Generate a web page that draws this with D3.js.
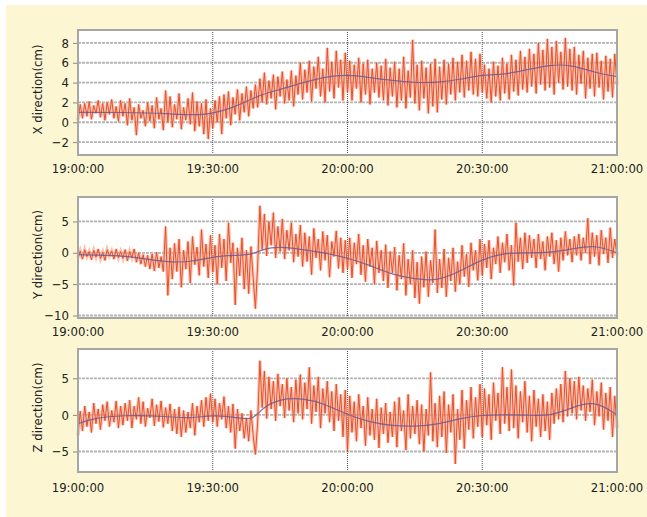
<!DOCTYPE html>
<html>
<head>
<meta charset="utf-8">
<script src="https://cdn.jsdelivr.net/npm/d3@7"></script>
<style>
  body { margin: 0; background: #fff; }
  svg { display: block; }
  text { font-family: "DejaVu Sans Condensed", "Liberation Sans Narrow", "DejaVu Sans", sans-serif; fill: #222; }
</style>
</head>
<body>
<svg id="chart" width="647" height="517"></svg>
<script>
// raw displacement samples, one every 30 s from 19:00:00 to 21:00:00 (cm)
const xRed = [
  0.2,1.8,0.4,1.9,0.6,2.1,0.3,1.7,0.9,2.2,0.5,1.9,0.2,2.0,0.8,2.3,0.4,1.6,0.1,2.2,
  0.6,1.9,-0.3,2.4,0.2,1.5,-1.3,1.8,0.4,1.2,-0.4,2.0,0.1,1.7,-0.6,2.5,0.3,1.4,-0.8,3.2,
  0.0,2.6,-0.5,1.8,0.3,2.9,-0.7,1.5,0.2,2.4,-0.2,3.0,-0.9,2.1,-0.4,1.9,-1.2,2.3,-1.7,1.4,
  -0.6,2.2,0.0,2.6,-1.2,2.8,0.4,3.1,-0.3,2.5,0.8,3.3,0.2,2.9,1.0,3.6,0.6,3.2,1.4,3.8,
  1.5,4.4,2.0,5.0,1.8,4.2,2.4,4.8,1.3,4.6,2.6,5.1,1.9,4.3,2.2,5.2,1.6,4.7,2.8,6.0,
  2.3,5.3,3.0,6.2,2.1,5.6,3.4,6.6,2.6,5.4,2.0,7.5,3.1,6.1,2.4,7.2,3.5,6.3,2.2,7.0,
  3.0,6.2,2.2,5.8,3.4,6.5,2.0,5.9,2.8,6.3,1.8,5.4,3.0,6.0,2.5,5.7,2.2,6.4,1.7,5.5,
  2.6,6.1,1.5,5.4,2.2,6.6,1.4,5.2,2.5,8.3,1.9,5.8,1.2,6.2,2.4,5.5,0.9,5.9,1.6,6.4,
  1.0,5.6,2.3,6.3,1.8,5.9,2.8,6.5,2.2,6.1,3.0,6.8,2.5,6.2,3.2,7.1,2.8,6.4,2.6,6.9,
  3.0,5.8,2.4,5.4,2.0,6.1,2.6,5.7,2.2,6.5,2.9,5.9,2.3,6.8,3.1,6.3,2.7,7.2,3.3,6.6,
  3.0,7.4,3.6,6.9,2.9,8.0,3.8,7.3,3.2,8.4,3.5,7.6,2.8,8.2,4.0,7.1,3.3,8.5,3.6,7.4,
  3.2,7.6,2.8,6.8,3.9,7.2,2.4,6.5,3.4,6.9,2.6,7.0,3.5,6.2,2.3,6.7,3.1,6.4,2.5,6.9,
  3.8
];
const yRed = [
  -0.8,0.3,-1.0,0.5,-0.6,0.2,-1.1,0.4,-0.7,0.6,-0.9,0.1,-1.2,0.5,-0.5,0.3,-1.0,0.6,-0.8,0.2,
  -0.9,0.5,-1.3,0.2,-0.8,0.6,-1.5,0.0,-1.8,-0.3,-2.2,-0.4,-2.6,-0.2,-2.9,0.1,-2.4,-0.6,-3.0,4.2,
  -6.8,0.8,-4.2,1.5,-3.0,2.2,-5.5,0.4,-2.6,1.8,-4.8,2.6,-1.9,0.9,-3.6,3.7,-2.2,1.4,-4.0,2.8,
  -3.1,1.2,-5.0,3.0,-2.4,2.2,-4.5,4.8,-1.6,1.6,-8.3,0.8,-3.7,2.4,-5.8,0.4,-6.5,1.0,-4.0,-8.9,
  -2.0,7.5,0.5,6.2,-0.5,5.0,1.2,6.4,-0.8,4.2,0.2,5.4,-1.0,3.6,0.4,4.8,-1.5,3.0,-0.6,4.4,
  -2.2,3.2,-1.4,2.6,-3.5,3.9,-0.8,2.2,-2.8,3.4,-1.2,2.8,-3.9,1.8,-0.6,3.5,-2.5,2.4,-3.2,2.0,
  -2.6,2.4,-4.0,1.6,-1.8,3.0,-3.5,1.2,-4.6,2.2,-2.2,0.8,-5.0,1.9,-3.2,0.4,-4.5,1.3,-5.6,0.2,
  -3.2,0.9,-6.0,-0.4,-4.2,1.5,-6.8,-1.0,-5.0,0.4,-7.2,-1.5,-8.1,-0.6,-5.5,0.2,-7.0,-1.2,-4.8,3.7,
  -6.4,-1.0,-5.6,0.6,-7.0,-0.8,-4.5,0.8,-6.2,-1.4,-5.0,1.2,-3.8,-0.2,-5.4,1.6,-2.8,0.4,-4.4,2.2,
  -3.6,1.4,-2.4,2.0,-4.2,0.8,-1.8,2.6,-3.2,1.6,-1.5,3.0,-2.8,1.2,-5.2,4.8,-1.4,2.4,-2.6,3.2,
  -1.6,2.8,-0.8,2.2,-2.4,3.0,-1.0,1.8,-2.8,2.6,-0.6,3.2,-1.8,2.0,-3.0,2.4,-1.2,3.4,-0.4,2.2,
  -1.5,2.6,-0.4,3.0,-1.2,2.4,0.0,5.5,-1.8,3.2,-0.6,2.8,-2.0,3.6,-0.2,2.4,-1.6,4.0,-0.8,2.2,
  -0.4
];
const zRed = [
  -2.8,0.5,-2.2,1.2,-1.6,0.4,-2.4,1.6,-1.2,0.8,-2.0,1.4,-0.8,1.8,-1.6,0.6,-1.0,1.9,-1.8,1.2,
  -1.4,1.6,-0.8,2.0,-1.8,1.2,-0.6,2.4,-1.2,1.8,-1.6,0.9,-0.4,2.2,-1.5,1.4,-0.9,1.9,-1.7,1.0,
  -1.2,1.5,-2.2,0.8,-2.6,1.1,-3.0,0.6,-2.4,0.4,-1.8,1.6,-2.8,1.2,-1.0,2.0,-1.6,2.4,-0.8,2.9,
  -1.0,2.2,-1.6,1.6,-0.6,2.5,-1.8,1.2,-2.4,1.5,-4.6,0.8,-2.2,0.2,-3.2,-0.4,-3.6,0.6,-2.8,-5.4,
  -1.0,7.4,1.0,6.0,-0.5,5.2,0.8,4.6,-0.8,5.6,1.2,4.2,-0.4,5.0,0.6,3.8,-1.0,4.8,0.2,5.5,
  -0.6,4.4,0.8,6.5,-1.2,4.0,0.4,5.2,-1.8,3.6,0.2,4.6,-1.0,3.2,-2.2,4.2,-0.8,2.8,-3.0,3.4,
  -5.0,2.6,-2.4,1.8,-3.6,2.8,-1.8,1.2,-4.2,2.4,-2.8,0.8,-3.4,2.2,-4.5,1.0,-2.6,1.6,-3.8,0.4,
  -3.0,1.8,-4.4,2.4,-2.2,0.6,-4.8,2.8,-3.2,1.2,-2.6,2.0,-4.0,1.4,-5.0,0.8,-2.8,5.8,-3.6,1.6,
  -4.4,2.6,-3.0,3.2,-5.2,1.4,-2.4,2.8,-6.7,0.8,-3.4,3.4,-4.6,2.0,-2.0,3.8,-3.2,2.4,-1.6,4.2,
  -3.0,3.6,-1.4,2.8,-3.4,4.4,-0.8,3.0,-2.6,6.5,-1.2,3.8,-2.2,6.2,-1.8,4.0,-3.2,3.2,-1.0,4.6,
  -2.4,2.6,-3.6,3.4,-1.6,2.2,-3.0,2.8,-2.2,1.8,-3.4,3.0,-1.2,3.6,-0.6,4.2,-1.0,6.0,-0.2,5.0,
  0.2,4.6,-0.6,5.2,0.6,4.0,-0.8,3.6,0.4,4.8,-1.4,3.2,-0.2,4.4,-2.0,3.0,-0.8,3.8,-3.0,2.6,
  -1.8
];

// smoothed trend (minutes after 19:00:00, cm)
const xBlueMin = [0,10,20,28,35,40,45,50,55,60,65,70,75,80,85,90,95,100,105,110,115,120];
const xBlue    = [1.0,1.0,0.9,0.6,1.5,2.7,3.3,4.0,4.6,4.8,4.5,4.2,4.0,4.0,4.3,4.8,4.8,5.3,5.8,5.8,5.0,4.6];
const yBlueMin = [0,10,15,20,25,30,35,39,41,45,50,55,60,65,70,75,80,85,90,95,100,105,110,115,120];
const yBlue    = [-0.3,-0.4,-1.0,-1.5,-1.5,-0.6,-0.4,-0.3,0.6,1.0,0.5,0.0,-0.8,-2.0,-3.5,-4.2,-4.5,-3.0,-1.0,0.0,0.0,0.0,0.6,1.3,0.0];
const zBlueMin = [0,3,10,20,25,30,35,39,41,45,50,55,60,65,70,75,80,85,90,95,100,105,110,115,120];
const zBlue    = [-1.2,-0.5,0.0,-0.2,-0.5,0.0,-0.3,-0.8,1.0,2.2,2.3,1.5,0.0,-1.0,-1.5,-1.6,-1.3,-0.5,0.0,0.0,0.0,-0.2,1.0,2.0,0.0];

const axisTitles = ["X direction(cm)", "Y direction(cm)", "Z direction(cm)"];
const xTicks = ["19:00:00", "19:30:00", "20:00:00", "20:30:00", "21:00:00"];
const xYTicks = [-2, 0, 2, 4, 6, 8];
const yYTicks = [-10, -5, 0, 5];
const zYTicks = [-5, 0, 5];

const svg = d3.select("#chart")
svg.append("rect").attr("x", 6).attr("y", 5).attr("width", 641).attr("height", 512).attr("fill", "#fcf6d2")

const parse = d3.timeParse("%H:%M:%S")
const t0 = parse(xTicks[0])
const xScale = d3.scaleTime().domain([t0, parse(xTicks[xTicks.length - 1])]).range([78, 617])
const atMin = m => new Date(t0.getTime() + m * 60000)

const panels = [
  {red: xRed, blueMin: xBlueMin, blue: xBlue, ticks: xYTicks, title: axisTitles[0], top: 30, bottom: 155, dom: [-3.3, 9.3], labelY: 173},
  {red: yRed, blueMin: yBlueMin, blue: yBlue, ticks: yYTicks, title: axisTitles[1], top: 197, bottom: 318, dom: [-10.4, 8.9], labelY: 336},
  {red: zRed, blueMin: zBlueMin, blue: zBlue, ticks: zYTicks, title: axisTitles[2], top: 349, bottom: 472, dom: [-7.8, 9.0], labelY: 492}
]

panels.forEach(p => {
  const y = d3.scaleLinear().domain(p.dom).range([p.bottom, p.top])
  const g = svg.append("g")
  const [x0, x1] = xScale.range()

  g.append("rect").attr("x", x0).attr("y", p.top).attr("width", x1 - x0).attr("height", p.bottom - p.top)
    .attr("fill", "#fff")

  // horizontal grid
  g.selectAll(".hgrid").data(p.ticks).join("line")
    .attr("x1", x0).attr("x2", x1)
    .attr("y1", d => y(d)).attr("y2", d => y(d))
    .attr("stroke", "#b4b4b4").attr("stroke-width", 1.8).attr("stroke-dasharray", "3,1")
  // vertical grid at inner half hours
  g.selectAll(".vgrid").data(xTicks.slice(1, -1)).join("line")
    .attr("x1", d => xScale(parse(d))).attr("x2", d => xScale(parse(d)))
    .attr("y1", p.top).attr("y2", p.bottom)
    .attr("stroke", "#555").attr("stroke-width", 1).attr("stroke-dasharray", "1,1")

  const redLine = d3.line().x((d, i) => xScale(atMin(i * 0.5))).y(d => y(d))
  g.append("path").datum(p.red).attr("d", redLine)
    .attr("fill", "none").attr("stroke", "#f6a084").attr("stroke-width", 3.4).attr("stroke-opacity", 0.6)
  g.append("path").datum(p.red).attr("d", redLine)
    .attr("fill", "none").attr("stroke", "#e6502c").attr("stroke-width", 1)

  const blueLine = d3.line().curve(d3.curveBasis)
    .x((d, i) => xScale(atMin(p.blueMin[i]))).y(d => y(d))
  g.append("path").datum(p.blue).attr("d", blueLine)
    .attr("fill", "none").attr("stroke", "#6a5a92").attr("stroke-width", 1.2).attr("stroke-opacity", 0.85)

  g.append("rect").attr("x", x0).attr("y", p.top).attr("width", x1 - x0).attr("height", p.bottom - p.top)
    .attr("fill", "none").attr("stroke", "#a6a6a6").attr("stroke-width", 2)

  // y axis
  const yAxis = d3.axisLeft(y).tickValues(p.ticks).tickSize(4).tickPadding(4)
  const ya = g.append("g").attr("transform", `translate(${x0 - 1},0)`).call(yAxis)
  ya.select(".domain").remove()
  ya.selectAll("line").attr("stroke", "#888")
  ya.selectAll("text").attr("font-size", 13).attr("fill", "#222")
    .style("font-family", '"DejaVu Sans Condensed", "DejaVu Sans", sans-serif')

  // x tick labels
  g.selectAll(".xl").data(xTicks).join("text")
    .attr("x", d => xScale(parse(d))).attr("y", p.labelY)
    .attr("text-anchor", "middle").attr("font-size", 13)
    .text(d => d)

  g.append("text")
    .attr("transform", `translate(42,${(p.top + p.bottom) / 2 - 3}) rotate(-90)`)
    .attr("text-anchor", "middle").attr("font-size", 13)
    .text(p.title)
})
</script>
</body>
</html>
